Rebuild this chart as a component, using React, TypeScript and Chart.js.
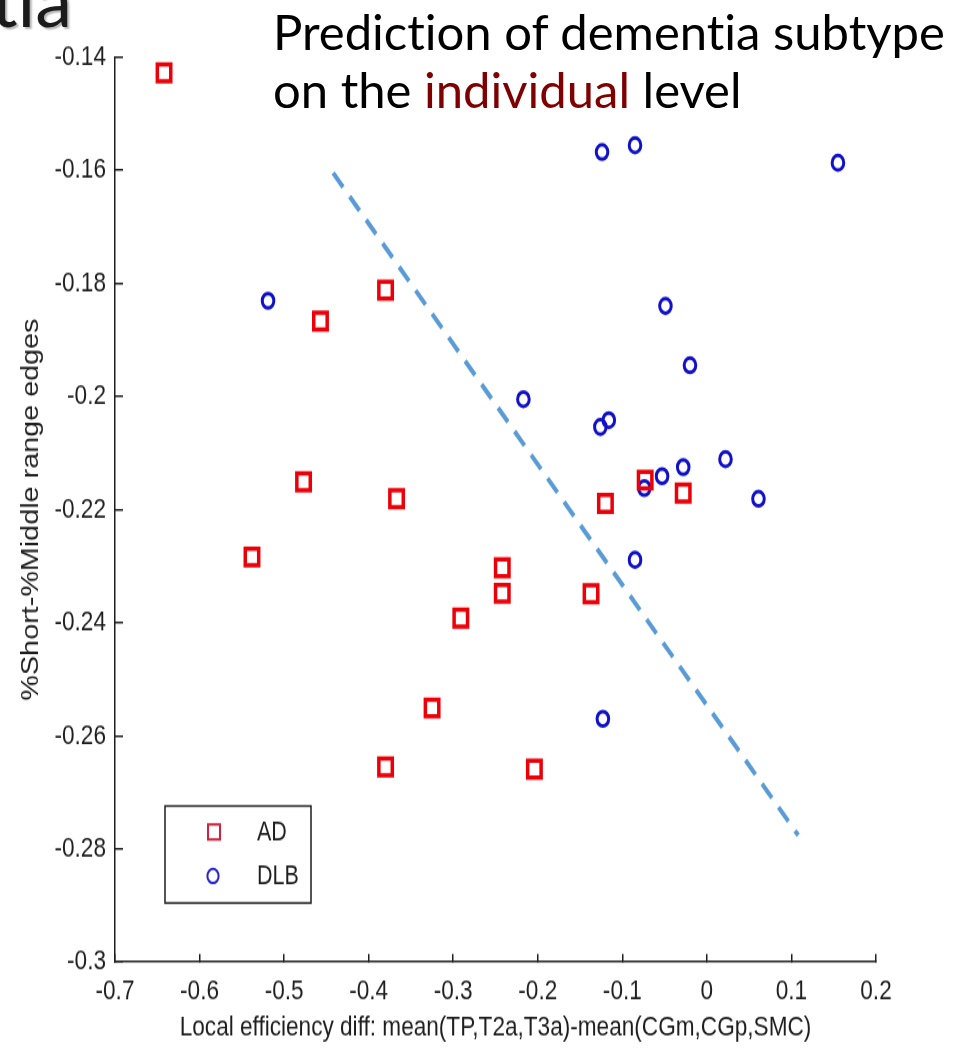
import React, { useEffect, useRef } from "react";
import { Chart, registerables } from "chart.js";

Chart.register(...registerables);

// ---- data ----
const SERIES_NAMES = ["AD", "DLB"];
const AD_X = [-0.642, -0.457, -0.380, -0.477, -0.367, -0.538, -0.242, -0.242, -0.291, -0.073, -0.028, -0.120, -0.137, -0.325, -0.380, -0.204];
const AD_Y = [-0.1428, -0.1867, -0.1812, -0.2151, -0.2181, -0.2284, -0.2303, -0.2348, -0.2392, -0.2148, -0.2171, -0.2189, -0.2349, -0.2551, -0.2655, -0.2659];
const DLB_X = [-0.519, -0.124, -0.085, 0.155, -0.049, -0.020, -0.217, -0.126, -0.116, -0.074, -0.053, -0.028, 0.022, 0.061, -0.085, -0.123];
const DLB_Y = [-0.1831, -0.1568, -0.1556, -0.1587, -0.1840, -0.1945, -0.2005, -0.2054, -0.2042, -0.2162, -0.2141, -0.2125, -0.2111, -0.2181, -0.2289, -0.2570];
const LINE_X = [-0.442, 0.108];
const LINE_Y = [-0.1605, -0.2776];

const X_TICKS = [-0.7, -0.6, -0.5, -0.4, -0.3, -0.2, -0.1, 0, 0.1, 0.2];
const X_TICK_LABELS = ["-0.7", "-0.6", "-0.5", "-0.4", "-0.3", "-0.2", "-0.1", "0", "0.1", "0.2"];
const Y_TICKS = [-0.3, -0.28, -0.26, -0.24, -0.22, -0.2, -0.18, -0.16, -0.14];
const Y_TICK_LABELS = ["-0.3", "-0.28", "-0.26", "-0.24", "-0.22", "-0.2", "-0.18", "-0.16", "-0.14"];

const X_TITLE = "Local efficiency diff: mean(TP,T2a,T3a)-mean(CGm,CGp,SMC)";
const Y_TITLE = "%Short-%Middle range edges";
const SLIDE_TITLE_1 = "Prediction of dementia subtype";
const SLIDE_TITLE_2A = "on the ";
const SLIDE_TITLE_2B = "individual";
const SLIDE_TITLE_2C = " level";
const SLIDE_HEADING = "Dementia";

// ---- layout (canvas drawn unstretched, then stretched vertically) ----
const W = 955;
const H = 838;
const K = 1048 / H;
const AXIS_FONT = { family: "'Liberation Sans', Arial, sans-serif", size: 22.6 };
const INK = "#1e1e1e";
const AD_COLOR = "#ec0008";
const DLB_COLOR = "#1010c8";
const SLIDE_FONT = "Lato, 'Open Sans', sans-serif";

const legendPlugin = {
  id: "legendBox",
  afterDatasetsDraw(chart: any) {
    const ctx = chart.ctx;
    const left = 165, right = 311;
    const top = 806 / K, bottom = 903 / K;
    ctx.save();
    ctx.fillStyle = "#ffffff";
    ctx.fillRect(left, top, right - left, bottom - top);
    ctx.strokeStyle = INK;
    ctx.lineWidth = 1.5;
    ctx.strokeRect(left, top, right - left, bottom - top);
    const rows = [
      { y: 832 / K, style: "rect", r: 8.5, color: "#d0203c" },
      { y: 876 / K, style: "circle", r: 5.6, color: "#2424c8" },
    ];
    rows.forEach((row, i) => {
      ctx.strokeStyle = row.color;
      ctx.lineWidth = 2;
      ctx.beginPath();
      if (row.style === "rect") {
        const s = row.r * Math.SQRT1_2;
        ctx.rect(214 - s, row.y - s, 2 * s, 2 * s);
      } else {
        ctx.arc(213, row.y, row.r, 0, Math.PI * 2);
      }
      ctx.stroke();
      ctx.fillStyle = INK;
      ctx.font = `21.5px ${AXIS_FONT.family}`;
      ctx.textAlign = "left";
      ctx.textBaseline = "middle";
      ctx.fillText(SERIES_NAMES[i], 257, row.y + 1);
    });
    ctx.restore();
  },
};

export default function App() {
  const ref = useRef<HTMLCanvasElement | null>(null);

  useEffect(() => {
    if (!ref.current) return;
    const chart = new Chart(ref.current, {
      type: "scatter",
      data: {
        datasets: [
          {
            label: SERIES_NAMES[0],
            data: AD_X.map((x, i) => ({ x, y: AD_Y[i] })),
            pointStyle: "rect",
            pointRadius: 9.5,
            borderColor: AD_COLOR,
            backgroundColor: "rgba(0,0,0,0)",
            borderWidth: 3.5,
          },
          {
            label: SERIES_NAMES[1],
            data: DLB_X.map((x, i) => ({ x, y: DLB_Y[i] })),
            pointStyle: "circle",
            pointRadius: 5.8,
            borderColor: DLB_COLOR,
            backgroundColor: "rgba(0,0,0,0)",
            borderWidth: 3,
          },
          {
            label: "boundary",
            data: LINE_X.map((x, i) => ({ x, y: LINE_Y[i] })),
            showLine: true,
            pointRadius: 0,
            borderColor: "#5b9bd5",
            borderWidth: 4,
            borderDash: [15, 10],
            fill: false,
          } as any,
        ],
      },
      options: {
        responsive: false,
        animation: false,
        devicePixelRatio: 1,
        events: [],
        clip: false as any,
        layout: { padding: { left: 0, right: 79, top: 57 / K, bottom: 0 } },
        plugins: { legend: { display: false }, tooltip: { enabled: false } },
        scales: {
          x: {
            type: "linear",
            min: -0.7,
            max: 0.2,
            afterBuildTicks: (s: any) => {
              s.ticks = X_TICKS.map((v) => ({ value: v }));
            },
            afterFit: (s: any) => {
              s.height = H - 962 / K;
            },
            ticks: {
              autoSkip: false,
              maxRotation: 0,
              minRotation: 0,
              padding: 16,
              color: INK,
              font: AXIS_FONT,
              callback: (_v: any, i: number) => X_TICK_LABELS[i],
            },
            grid: {
              drawOnChartArea: false,
              drawTicks: true,
              tickLength: -6.4,
              color: INK,
              lineWidth: 1.5,
            },
            border: { display: true, color: INK, width: 1.5 },
            title: {
              display: true,
              text: X_TITLE,
              color: INK,
              font: AXIS_FONT,
              padding: { top: 0, bottom: 3 },
            },
          },
          y: {
            type: "linear",
            min: -0.3,
            max: -0.14,
            afterBuildTicks: (s: any) => {
              s.ticks = Y_TICKS.map((v) => ({ value: v }));
            },
            afterFit: (s: any) => {
              s.width = 115;
            },
            ticks: {
              autoSkip: false,
              padding: 17,
              color: INK,
              font: AXIS_FONT,
              callback: (_v: any, i: number) => Y_TICK_LABELS[i],
            },
            grid: {
              drawOnChartArea: false,
              drawTicks: true,
              tickLength: -8,
              color: INK,
              lineWidth: 1.5,
            },
            border: { display: true, color: INK, width: 1.5 },
            title: {
              display: true,
              text: Y_TITLE,
              color: INK,
              font: { family: AXIS_FONT.family, size: 23 },
              padding: { top: 18, bottom: 0 },
            },
          },
        },
      },
      plugins: [legendPlugin],
    });
    return () => chart.destroy();
  }, []);

  const textStyle: any = { fontVariantLigatures: "none", fontFeatureSettings: "'liga' 0, 'clig' 0" };

  return (
    <div style={{ position: "fixed", left: 0, top: 0, width: W, height: 1048, background: "#fff", overflow: "hidden" }}>
      <canvas
        ref={ref}
        width={W}
        height={H}
        style={{
          position: "absolute",
          left: 0,
          top: 0,
          width: W,
          height: H,
          transform: `scaleY(${K})`,
          transformOrigin: "0 0",
        }}
      />
      <svg width={W} height={130} style={{ position: "absolute", left: 0, top: 0 }}>
        <text x={72} y={27} textAnchor="end" fontFamily={SLIDE_FONT} fontSize={74} fill="#1b1b1b" style={{ ...textStyle, textShadow: "2px 2px 2px rgba(0,0,0,0.3)" }}>
          {SLIDE_HEADING}
        </text>
        <text x={273} y={50} fontFamily={SLIDE_FONT} fontSize={49} fill="#000" style={textStyle}>
          {SLIDE_TITLE_1}
        </text>
        <text x={273} y={108} fontFamily={SLIDE_FONT} fontSize={49} fill="#000" style={textStyle}>
          {SLIDE_TITLE_2A}
          <tspan fill="#7f0000">{SLIDE_TITLE_2B}</tspan>
          {SLIDE_TITLE_2C}
        </text>
      </svg>
    </div>
  );
}
